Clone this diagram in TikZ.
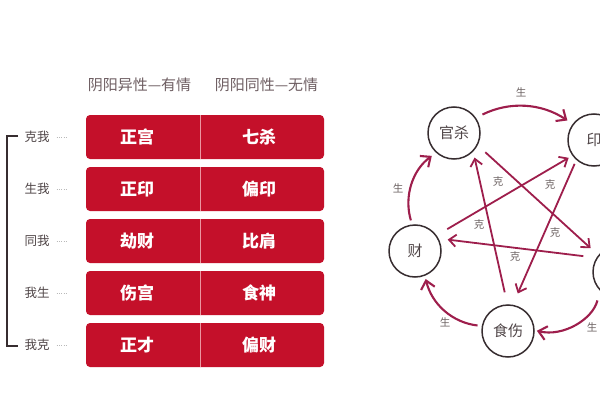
\documentclass[tikz,border=0pt]{standalone}
\usepackage{fontspec}
\setmainfont{Noto Sans CJK SC}
\usetikzlibrary{arrows.meta}
\definecolor{tred}{RGB}{196,16,42}
\definecolor{arr}{RGB}{158,30,76}
\definecolor{hdr}{RGB}{110,94,98}
\definecolor{lab}{RGB}{80,70,72}
\definecolor{ringc}{RGB}{55,45,48}
\definecolor{smallc}{RGB}{110,100,100}
\definecolor{divc}{RGB}{236,150,160}
\begin{document}
\begin{tikzpicture}[x=1pt,y=1pt,
  rowbox/.style={fill=tred, rounded corners=4pt, minimum width=238pt, minimum height=44pt, inner sep=0pt, outer sep=0pt},
  cell/.style={text=white, font=\bfseries\fontsize{17}{17}\selectfont},
  hdrtext/.style={text=hdr, font=\fontsize{15}{15}\selectfont},
  side/.style={text=lab, font=\fontsize{12.5}{12.5}\selectfont, inner sep=0pt},
  ringnode/.style={circle, draw=ringc, line width=1.5pt, minimum size=52pt, inner sep=0pt, outer sep=0pt, text=lab, font=\fontsize{15}{15}\selectfont},
  sheng/.style={draw=arr, line width=2.1pt, -{Straight Barb[length=8pt,width=14pt]}},
  ke/.style={draw=arr, line width=1.8pt, -{Straight Barb[length=7pt,width=12pt]}},
  note/.style={text=smallc, font=\fontsize{10.5}{10.5}\selectfont, inner sep=0pt},
  dotline/.style={draw=gray!55, line width=0.7pt, dash pattern=on 0.7pt off 1.6pt},
  divline/.style={draw=divc, line width=0.6pt},
]
\useasboundingbox (0,0) rectangle (600,400);
\clip (0,0) rectangle (600,400);
\fill[white] (0,0) rectangle (600,400);

% headers
\node[hdrtext] (h1) at (139.5,315) {阴阳异性—有情};
\node[hdrtext] (h2) at (266.5,315) {阴阳同性—无情};

% rows
\foreach \i/\y/\s/\a/\b in {1/263/克我/正宫/七杀, 2/211/生我/正印/偏印, 3/159/同我/劫财/比肩, 4/107/我生/伤宫/食神, 5/55/我克/正才/偏财}{
  \node[rowbox] (r\i) at (205,\y) {};
  \draw[divline] ([xshift=-5pt]r\i.north) -- ([xshift=-5pt]r\i.south);
  \node[cell] (a\i) at (137,\y) {\a};
  \node[cell] (b\i) at (259,\y) {\b};
  \node[side] (s\i) at (37,\y) {\s};
  \draw[dotline] ([xshift=7pt]s\i.east) -- ++(11,0);
}
% bracket
\draw[draw=ringc, line width=1.1pt] (18,264) -- (7,264) -- (7,54) -- (18,54);

% circles
\node[ringnode] (gs) at (454,267) {官杀};
\node[ringnode] (yin) at (594,260) {印};
\node[ringnode] (bj) at (619,128) {};
\node[ringnode] (ss) at (508,69) {食伤};
\node[ringnode] (cai) at (415,149) {财};

% sheng arcs
\draw[sheng, shorten <=8pt, shorten >=7pt] (gs.35) to[bend left=30] (yin.143);
\draw[sheng, shorten <=11pt, shorten >=3pt] (bj.-137) to[bend left=45] (ss.2);
\draw[sheng, shorten <=5pt, shorten >=4pt] (ss.169) to[bend left=35] (cai.-68);
\draw[sheng, shorten <=5pt, shorten >=6pt] (cai.96) to[bend left=35] (gs.-132);

% ke star
\draw[ke, shorten <=11pt, shorten >=11pt] (gs.-27) -- (bj.141);
\draw[ke, shorten <=5pt, shorten >=13pt] (yin.-132) -- (ss.80);
\draw[ke, shorten <=14pt, shorten >=10pt] (bj.147) -- (cai.29);
\draw[ke, shorten <=13pt, shorten >=7pt] (ss.91) -- (gs.-43);
\draw[ke, shorten <=13pt, shorten >=5pt] (cai.36) -- (yin.-144);

% labels
\node[note] (n1) at (521,308) {生};
\node[note] (n2) at (398,212) {生};
\node[note] (n3) at (445,78) {生};
\node[note] (n4) at (592,73) {生};
\node[note] (k1) at (498,218) {克};
\node[note] (k2) at (550,215) {克};
\node[note] (k3) at (479,175) {克};
\node[note] (k4) at (555,167) {克};
\node[note] (k5) at (515,143) {克};
\end{tikzpicture}
\end{document}
